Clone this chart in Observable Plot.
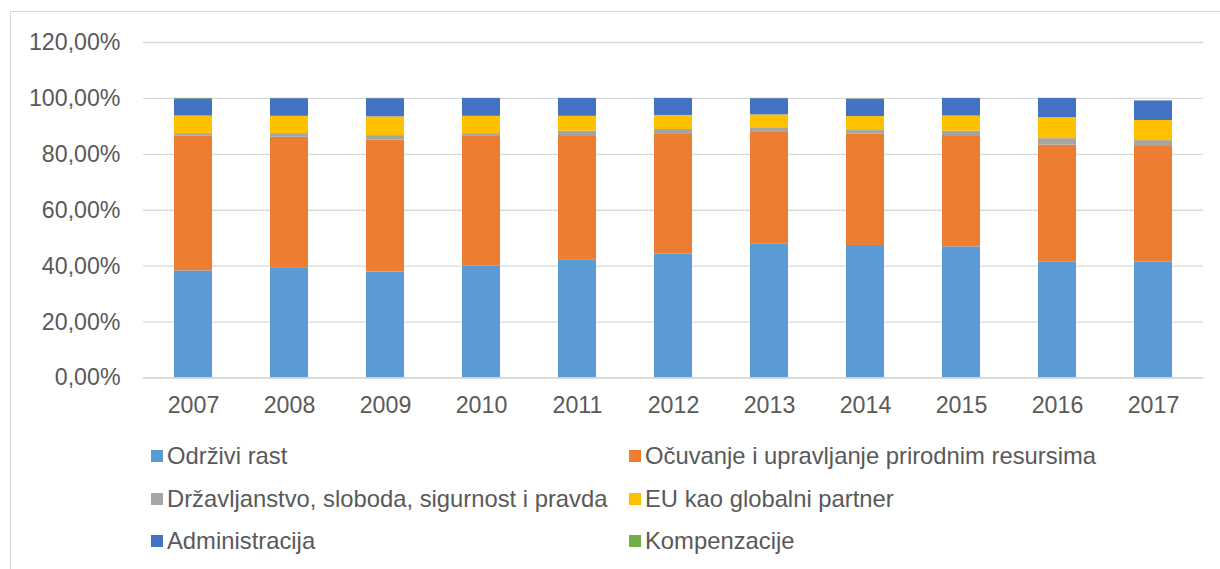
<!DOCTYPE html>
<html>
<head>
<meta charset="utf-8">
<script src="https://cdn.jsdelivr.net/npm/d3@7"></script>
<script src="https://cdn.jsdelivr.net/npm/@observablehq/plot@0.6"></script>
<style>
  html, body { margin: 0; padding: 0; background: #fff; }
  body { width: 1220px; height: 569px; overflow: hidden; position: relative; font-family: "Liberation Sans", Arial, sans-serif; }
  #frame { position: absolute; left: 10px; top: 11px; width: 1300px; height: 700px; border-left: 1px solid #d9d9d9; border-top: 1px solid #d9d9d9; box-sizing: border-box; }
  #chart { position: absolute; left: 0; top: 0; }
  #legend { position: absolute; left: 151px; top: 435px; display: grid; grid-template-columns: 478px auto; grid-auto-rows: 42.5px; }
  .item { display: flex; align-items: center; font-size: 23.8px; color: #595959; white-space: nowrap; }
  .sw { width: 12px; height: 12px; margin-right: 4px; flex: none; }
</style>
</head>
<body>
<div id="frame"></div>
<div id="chart"></div>
<div id="legend"></div>
<script>
const years = ["2007","2008","2009","2010","2011","2012","2013","2014","2015","2016","2017"];
const seriesNames = [
  "Održivi rast",
  "Očuvanje i upravljanje prirodnim resursima",
  "Državljanstvo, sloboda, sigurnost i pravda",
  "EU kao globalni partner",
  "Administracija",
  "Kompenzacije"
];
const colors = ["#5B9BD5", "#ED7D31", "#A5A5A5", "#FFC000", "#4472C4", "#70AD47"];
const odrziviRast     = [38.3, 39.2, 37.9, 40.1, 42.3, 44.4, 48.0, 47.4, 46.9, 41.4, 41.5];
const ocuvanje        = [48.2, 46.9, 47.2, 46.3, 44.4, 42.7, 40.1, 39.8, 39.8, 41.9, 41.3];
const drzavljanstvo   = [0.9, 1.3, 1.6, 1.0, 1.6, 1.8, 1.4, 1.3, 1.6, 2.3, 2.1];
const euGlobalni      = [6.3, 6.2, 6.7, 6.2, 5.3, 5.0, 4.6, 5.0, 5.4, 7.5, 7.2];
const administracija  = [6.1, 6.3, 6.5, 6.4, 6.4, 6.1, 5.8, 6.2, 6.3, 6.9, 7.0];
const kompenzacije    = [0.2, 0.1, 0.1, 0.0, 0.0, 0.0, 0.1, 0.1, 0.0, 0.0, 0.0];
const yTicks = [0, 20, 40, 60, 80, 100, 120];

const seriesValues = [odrziviRast, ocuvanje, drzavljanstvo, euGlobalni, administracija, kompenzacije];
const data = [];
seriesNames.forEach((s, i) => {
  years.forEach((y, j) => data.push({year: y, series: s, value: seriesValues[i][j]}));
});

const fmt = d => d.toFixed(2).replace(".", ",") + "%";

const chart = Plot.plot({
  width: 1220,
  height: 430,
  marginTop: 42,
  marginBottom: 52.5,
  marginLeft: 143,
  marginRight: 17,
  style: { fontFamily: "'Liberation Sans', Arial, sans-serif", fontSize: "23.2px", color: "#595959", background: "transparent" },
  x: { domain: years, paddingInner: 0.6, paddingOuter: 0.3, label: null },
  y: { domain: [0, 120], label: null },
  color: { domain: seriesNames, range: colors },
  marks: [
    Plot.gridY(yTicks, { stroke: "#d9d9d9", strokeOpacity: 1, strokeWidth: 1.3 }),
    Plot.barY(data, Plot.stackY({ x: "year", y: "value", fill: "series", order: seriesNames })),
    Plot.ruleY([0], { stroke: "#d9d9d9", strokeWidth: 1.3 }),
    Plot.axisY({ ticks: yTicks, tickFormat: fmt, tickSize: 0, tickPadding: 23, label: null, fill: "#595959" }),
    Plot.axisX({ tickSize: 0, tickPadding: 19, label: null, fill: "#595959" })
  ]
});
document.getElementById("chart").appendChild(chart);

const legend = document.getElementById("legend");
seriesNames.forEach((s, i) => {
  const item = document.createElement("div");
  item.className = "item";
  const sw = document.createElement("span");
  sw.className = "sw";
  sw.style.background = colors[i];
  item.appendChild(sw);
  item.appendChild(document.createTextNode(s));
  legend.appendChild(item);
});
</script>
</body>
</html>
